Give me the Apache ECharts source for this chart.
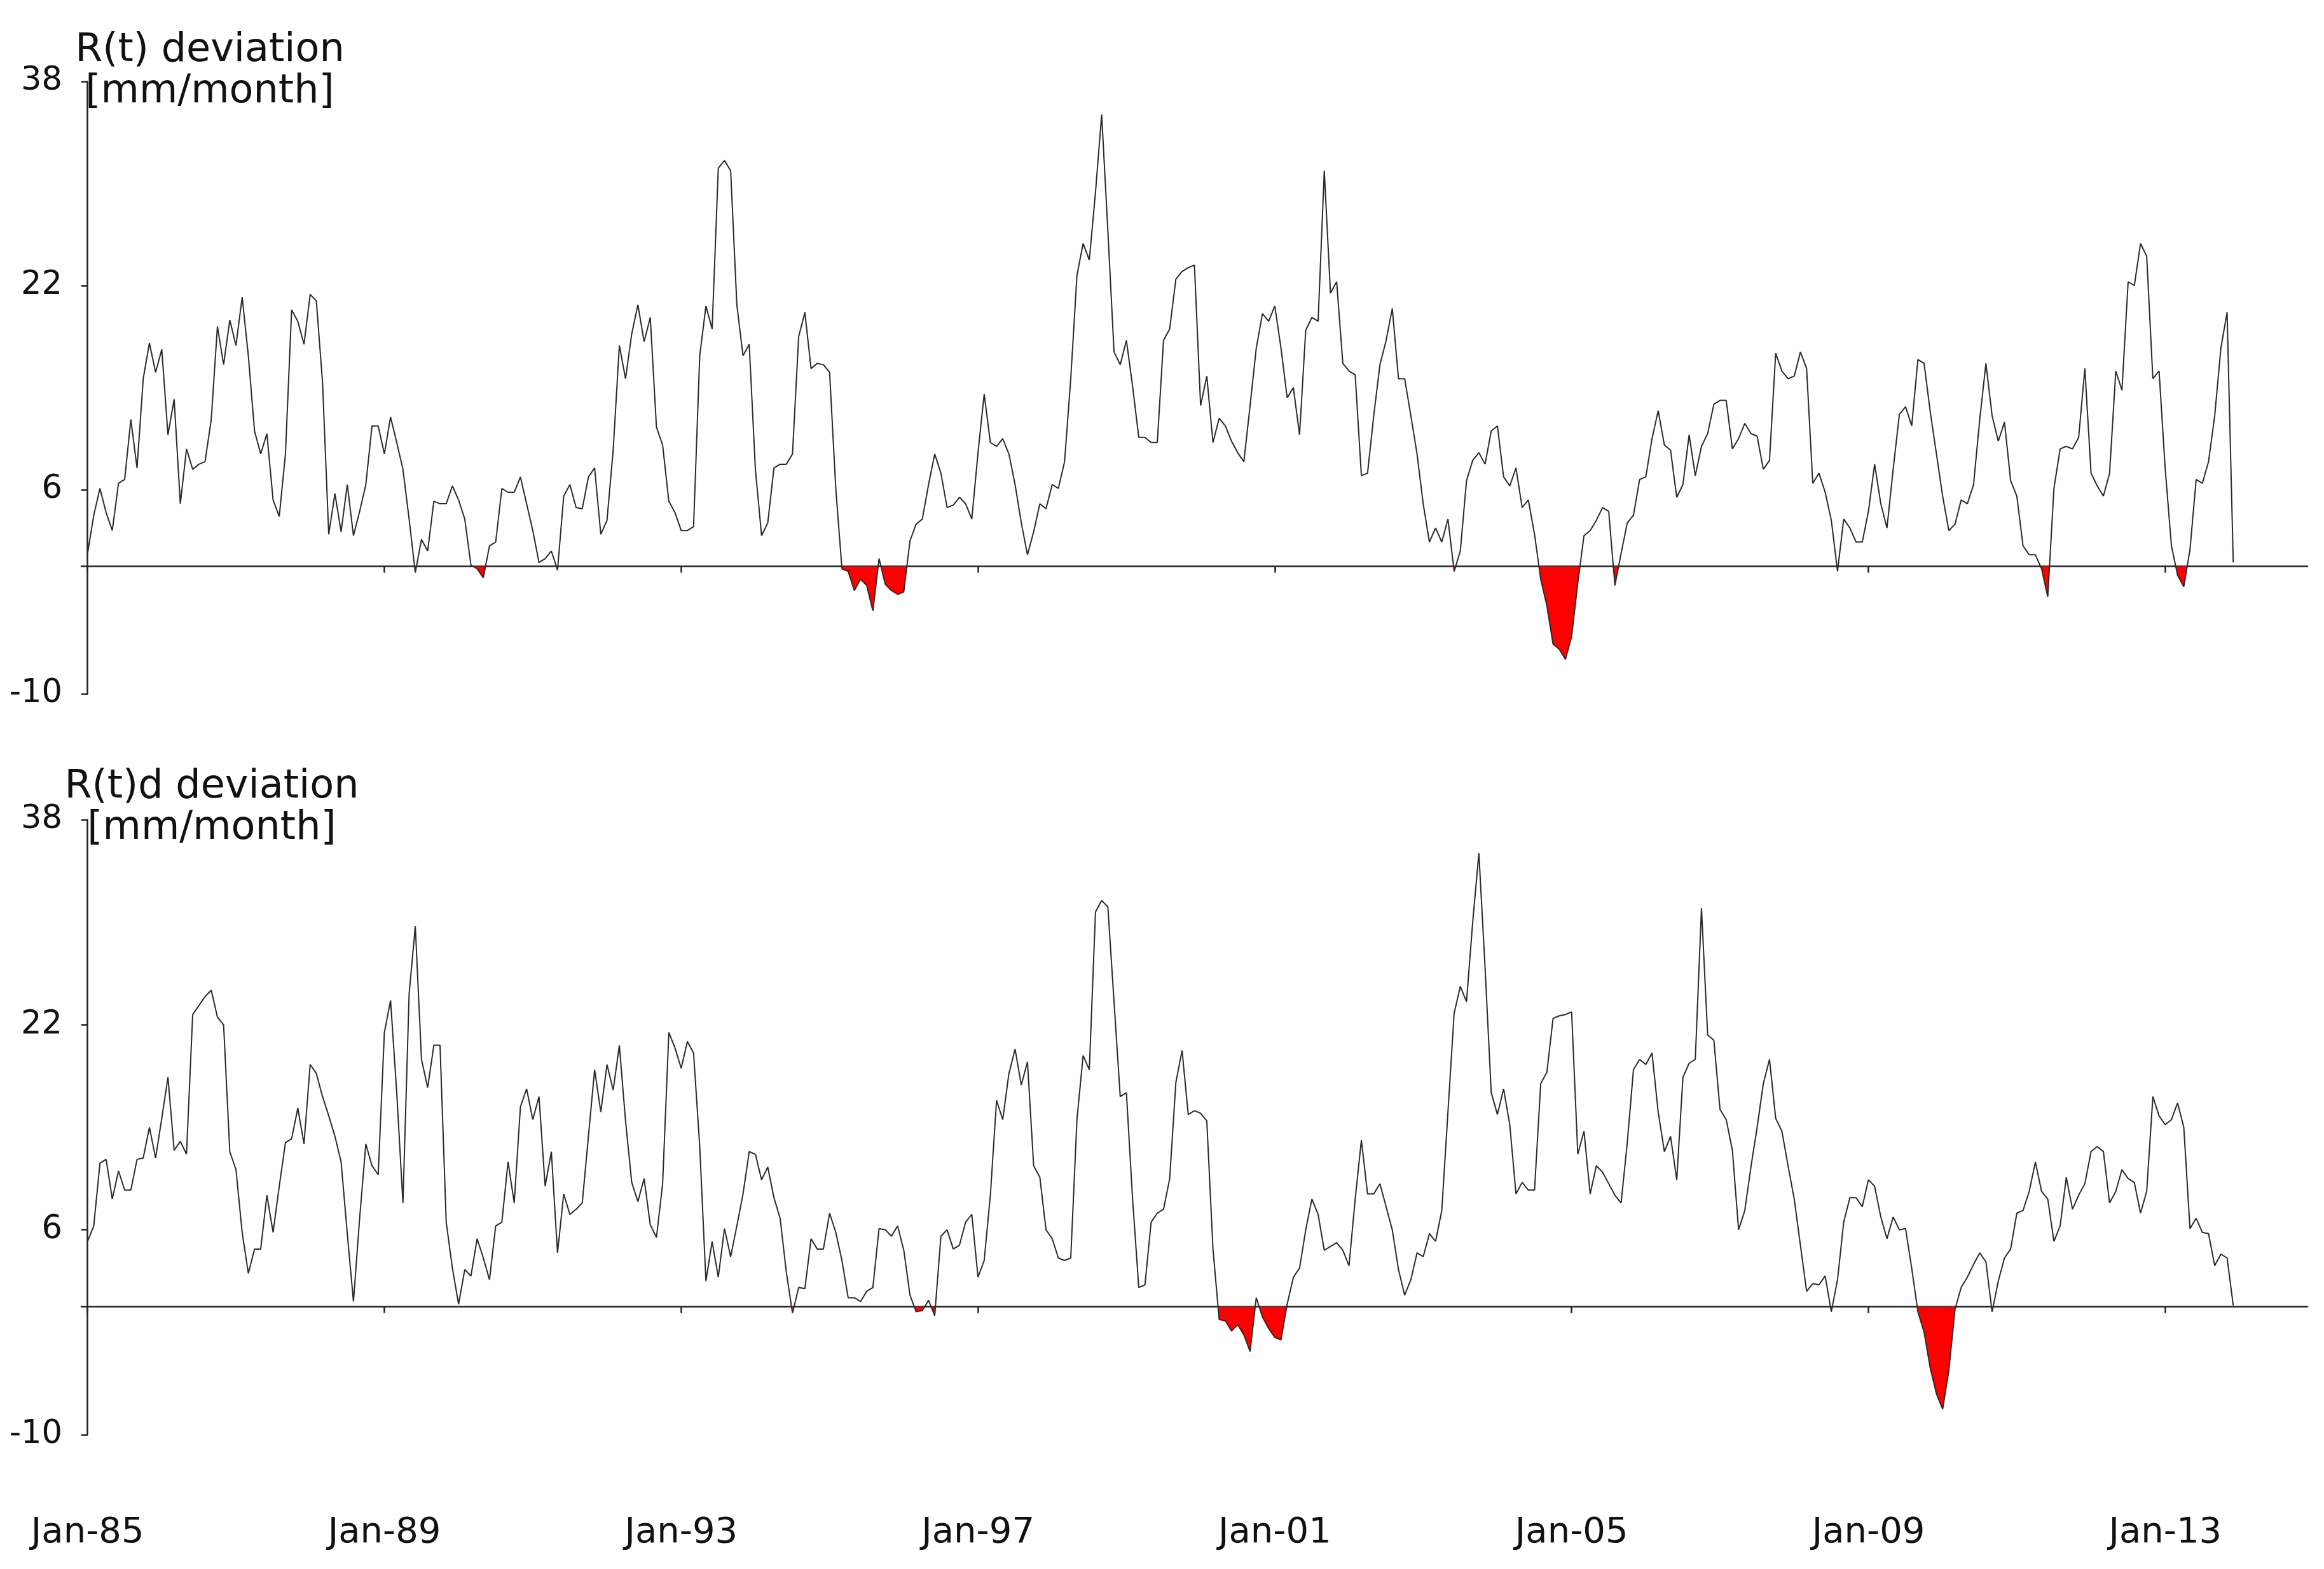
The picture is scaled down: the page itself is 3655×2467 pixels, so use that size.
<!DOCTYPE html>
<html>
<head>
<meta charset="utf-8">
<script src="https://cdn.jsdelivr.net/npm/echarts@6/dist/echarts.min.js"></script>
<style>
html,body{margin:0;padding:0;background:#ffffff;}
#chart{width:3655px;height:2467px;}
</style>
</head>
<body>
<div id="chart"></div>
<script>
// ---- data (monthly, Jan 1985 .. Dec 2013) ----
const tickLabels = ['Jan-85','Jan-89','Jan-93','Jan-97','Jan-01','Jan-05','Jan-09','Jan-13'];
const tickMonths = [0, 48, 96, 144, 192, 240, 288, 336];   // month index from Jan-85
const yTicks = [-10, 6, 22, 38];
const titleTop = 'R(t) deviation\n[mm/month]';
const titleBottom = 'R(t)d deviation\n[mm/month]';

// R(t) deviation [mm/month], one row per year
const rt = [
  1.0, 4.0, 6.1, 4.2, 2.8, 6.5, 6.8, 11.5, 7.7, 14.7, 17.5, 15.2,
  17.0, 10.3, 13.1, 4.9, 9.2, 7.6, 8.0, 8.2, 11.5, 18.8, 15.8, 19.3,
  17.3, 21.1, 16.5, 10.6, 8.8, 10.4, 5.2, 3.9, 8.8, 20.1, 19.2, 17.4,
  21.3, 20.8, 14.4, 2.5, 5.7, 2.7, 6.4, 2.4, 4.3, 6.4, 11.0, 11.0,
  8.8, 11.7, 9.7, 7.6, 3.7, -0.5, 2.1, 1.2, 5.1, 4.9, 4.9, 6.3,
  5.2, 3.7, 0.1, -0.2, -0.9, 1.6, 1.9, 6.1, 5.8, 5.8, 7.0, 4.9,
  2.8, 0.3, 0.6, 1.2, -0.3, 5.5, 6.4, 4.6, 4.5, 7.0, 7.7, 2.5,
  3.6, 9.1, 17.3, 14.7, 18.2, 20.5, 17.6, 19.5, 10.9, 9.5, 5.1, 4.2,
  2.8, 2.8, 3.1, 16.5, 20.4, 18.6, 31.2, 31.8, 31.0, 20.5, 16.5, 17.4,
  7.6, 2.4, 3.4, 7.7, 8.0, 8.0, 8.8, 18.0, 19.9, 15.5, 15.9, 15.8,
  15.2, 6.1, -0.2, -0.4, -1.9, -1.0, -1.5, -3.5, 0.6, -1.4, -1.9, -2.2,
  -2.0, 2.0, 3.3, 3.7, 6.4, 8.8, 7.3, 4.6, 4.8, 5.4, 4.9, 3.7,
  8.9, 13.5, 9.7, 9.4, 10.0, 8.8, 6.4, 3.4, 0.9, 2.7, 4.9, 4.5,
  6.4, 6.1, 8.2, 14.7, 22.8, 25.3, 24.0, 29.3, 35.4, 26.3, 16.8, 15.8,
  17.7, 14.1, 10.1, 10.1, 9.7, 9.7, 17.7, 18.6, 22.5, 23.1, 23.4, 23.6,
  12.6, 14.9, 9.7, 11.6, 11.0, 9.8, 8.9, 8.2, 12.6, 17.1, 19.8, 19.2,
  20.4, 17.1, 13.2, 14.0, 10.3, 18.5, 19.5, 19.2, 31.0, 21.4, 22.3, 15.9,
  15.3, 15.0, 7.1, 7.3, 11.8, 15.8, 17.7, 20.2, 14.7, 14.7, 11.8, 8.8,
  4.9, 1.9, 3.0, 1.9, 3.7, -0.4, 1.2, 6.7, 8.3, 8.9, 8.0, 10.6,
  11.0, 7.0, 6.3, 7.7, 4.6, 5.2, 2.5, -1.0, -3.1, -6.1, -6.5, -7.3,
  -5.5, -1.3, 2.4, 2.8, 3.6, 4.6, 4.3, -1.5, 1.0, 3.4, 4.0, 6.8,
  7.0, 10.0, 12.2, 9.5, 9.1, 5.4, 6.4, 10.3, 7.1, 9.4, 10.4, 12.7,
  13.0, 13.0, 9.2, 10.0, 11.2, 10.4, 10.2, 7.6, 8.3, 16.7, 15.3, 14.7,
  14.9, 16.8, 15.5, 6.5, 7.3, 5.8, 3.6, -0.4, 3.7, 3.0, 1.9, 1.9,
  4.3, 8.0, 4.9, 3.0, 7.6, 11.9, 12.5, 11.0, 16.2, 15.9, 12.1, 8.8,
  5.5, 2.8, 3.3, 5.2, 4.9, 6.4, 11.5, 15.9, 11.8, 9.8, 11.3, 6.7,
  5.5, 1.6, 0.9, 0.9, -0.2, -2.4, 6.1, 9.2, 9.4, 9.2, 10.1, 15.5,
  7.3, 6.3, 5.5, 7.3, 15.3, 13.8, 22.3, 22.0, 25.3, 24.3, 14.7, 15.3,
  7.6, 1.6, -0.7, -1.6, 1.3, 6.8, 6.5, 8.2, 11.8, 17.1, 19.9, 0.3
];

// R(t)d deviation [mm/month], one row per year
const rtd = [
  5.1, 6.3, 11.2, 11.5, 8.4, 10.6, 9.1, 9.1, 11.5, 11.6, 14.0, 11.6,
  14.7, 17.9, 12.2, 12.9, 11.9, 22.8, 23.5, 24.2, 24.7, 22.6, 22.0, 12.1,
  10.7, 5.8, 2.6, 4.5, 4.5, 8.7, 5.8, 9.4, 12.8, 13.1, 15.5, 12.7,
  18.9, 18.2, 16.4, 14.9, 13.3, 11.3, 5.7, 0.4, 6.9, 12.7, 11.0, 10.3,
  21.4, 23.9, 16.7, 8.1, 24.4, 29.7, 19.3, 17.1, 20.4, 20.4, 6.6, 3.0,
  0.2, 2.9, 2.4, 5.3, 3.8, 2.1, 6.3, 6.6, 11.3, 8.1, 15.6, 17.0,
  14.6, 16.4, 9.4, 12.1, 4.2, 8.8, 7.2, 7.6, 8.1, 13.3, 18.5, 15.2,
  18.9, 16.9, 20.4, 14.5, 9.7, 8.2, 10.0, 6.4, 5.4, 9.6, 21.4, 20.2,
  18.6, 20.7, 19.8, 12.5, 2.0, 5.1, 2.3, 6.1, 3.9, 6.3, 8.8, 12.1,
  11.9, 9.9, 10.9, 8.5, 6.9, 2.7, -0.5, 1.5, 1.4, 5.3, 4.5, 4.5,
  7.3, 5.8, 3.6, 0.7, 0.7, 0.4, 1.2, 1.5, 6.1, 6.0, 5.5, 6.3,
  4.4, 0.9, -0.4, -0.3, 0.5, -0.7, 5.5, 6.0, 4.5, 4.8, 6.6, 7.2,
  2.3, 3.6, 8.7, 16.1, 14.6, 18.2, 20.1, 17.3, 19.1, 11.0, 10.1, 6.0,
  5.3, 3.8, 3.6, 3.8, 14.6, 19.6, 18.5, 30.8, 31.7, 31.2, 23.8, 16.4,
  16.7, 8.4, 1.5, 1.7, 6.6, 7.3, 7.6, 10.0, 17.5, 20.0, 15.0, 15.3,
  15.1, 14.5, 4.5, -1.0, -1.1, -1.9, -1.4, -2.2, -3.5, 0.7, -0.8, -1.7,
  -2.4, -2.6, 0.2, 2.3, 3.0, 6.0, 8.4, 7.2, 4.4, 4.7, 5.0, 4.4,
  3.2, 8.4, 13.0, 8.8, 8.8, 9.6, 7.8, 6.0, 2.9, 0.9, 2.1, 4.2,
  3.9, 5.7, 5.1, 7.5, 15.2, 22.9, 25.0, 23.8, 30.0, 35.4, 26.5, 16.7,
  15.0, 17.0, 14.2, 8.8, 9.7, 9.1, 9.1, 17.4, 18.3, 22.5, 22.7, 22.8,
  23.0, 11.9, 13.7, 8.8, 11.0, 10.5, 9.6, 8.7, 8.1, 12.8, 18.5, 19.3,
  18.9, 19.8, 15.2, 12.1, 13.3, 9.9, 17.9, 19.0, 19.3, 31.1, 21.2, 20.8,
  15.4, 14.6, 12.2, 6.0, 7.5, 10.9, 14.0, 17.4, 19.3, 14.7, 13.7, 11.0,
  8.4, 4.8, 1.2, 1.8, 1.7, 2.4, -0.4, 2.1, 6.6, 8.5, 8.5, 7.8,
  9.9, 9.4, 7.0, 5.3, 7.0, 6.0, 6.1, 3.0, -0.4, -2.0, -4.8, -6.8,
  -8.0, -5.0, -0.2, 1.5, 2.3, 3.3, 4.2, 3.5, -0.4, 2.0, 3.8, 4.5,
  7.3, 7.5, 9.0, 11.3, 9.0, 8.4, 5.1, 6.3, 10.1, 7.6, 8.7, 9.6,
  12.1, 12.5, 12.1, 8.1, 9.0, 10.7, 10.0, 9.7, 7.3, 9.0, 16.4, 14.9,
  14.2, 14.6, 15.9, 14.0, 6.1, 6.9, 5.8, 5.7, 3.2, 4.1, 3.8, 0.1
];

// ---- helpers: build series data from the arrays ----
function linePoints(vals) {
  return vals.map((v, i) => [i, v]);
}
// values clipped at zero, with the zero crossings inserted so the red fill starts where the line crosses
function negArea(vals) {
  const out = [];
  for (let i = 0; i < vals.length; i++) {
    const v = vals[i];
    if (i > 0) {
      const p = vals[i - 1];
      if ((p < 0 && v > 0) || (p > 0 && v < 0)) {
        out.push([i - 1 + p / (p - v), 0]);
      }
    }
    out.push([i, Math.min(v, 0)]);
  }
  return out;
}
function tickLabel(v) {
  const k = tickMonths.indexOf(Math.round(v));
  return k >= 0 ? tickLabels[k] : '';
}

const FONT = 'DejaVu Sans';
const AXIS_COLOR = '#222222';

function makeYAxis(gridIndex) {
  return {
    type: 'value', gridIndex: gridIndex, min: -10, max: 38,
    axisLine: { show: true, lineStyle: { color: AXIS_COLOR, width: 2.5 } },
    axisTick: { show: true, length: 10, customValues: yTicks, lineStyle: { color: AXIS_COLOR, width: 2.5 } },
    axisLabel: { show: true, customValues: yTicks, margin: 30, fontSize: 51, fontFamily: FONT, color: '#111111' },
    splitLine: { show: false }
  };
}
function makeZeroXAxis(gridIndex) {
  return {
    type: 'value', gridIndex: gridIndex, min: -1, max: 359, position: 'bottom',
    axisLine: { show: true, onZero: true, lineStyle: { color: AXIS_COLOR, width: 2.5 } },
    axisTick: { show: true, length: 10, inside: false, customValues: tickMonths, lineStyle: { color: AXIS_COLOR, width: 2.5 } },
    axisLabel: { show: false },
    splitLine: { show: false }
  };
}

const option = {
  animation: false,
  backgroundColor: '#ffffff',
  title: [
    { text: titleTop, left: 330, top: 47, padding: 0, textAlign: 'center',
      textStyle: { fontFamily: FONT, fontSize: 62, fontWeight: 'normal', color: '#111111', lineHeight: 65 } },
    { text: titleBottom, left: 333, top: 1205, padding: 0, textAlign: 'center',
      textStyle: { fontFamily: FONT, fontSize: 62, fontWeight: 'normal', color: '#111111', lineHeight: 65 } }
  ],
  grid: [
    { left: 128, top: 128, width: 3501, height: 963, containLabel: false },
    { left: 128, top: 1289, width: 3501, height: 967, containLabel: false }
  ],
  xAxis: [
    makeZeroXAxis(0),
    makeZeroXAxis(1),
    {
      type: 'value', gridIndex: 1, min: -1, max: 359, position: 'bottom',
      axisLine: { show: false, onZero: false },
      axisTick: { show: false },
      axisLabel: { show: true, customValues: tickMonths, formatter: tickLabel, margin: 126,
        fontSize: 56, lineHeight: 56, fontFamily: FONT, color: '#111111' },
      splitLine: { show: false }
    }
  ],
  yAxis: [ makeYAxis(0), makeYAxis(1) ],
  series: [
    { type: 'line', xAxisIndex: 0, yAxisIndex: 0, data: negArea(rt), showSymbol: false, silent: true,
      lineStyle: { width: 0, opacity: 0 }, areaStyle: { color: '#ff0000', opacity: 1, origin: 0 }, z: 2 },
    { type: 'line', xAxisIndex: 0, yAxisIndex: 0, data: linePoints(rt), showSymbol: false, silent: true,
      lineStyle: { color: '#2a2a2a', width: 2 }, z: 3 },
    { type: 'line', xAxisIndex: 1, yAxisIndex: 1, data: negArea(rtd), showSymbol: false, silent: true,
      lineStyle: { width: 0, opacity: 0 }, areaStyle: { color: '#ff0000', opacity: 1, origin: 0 }, z: 2 },
    { type: 'line', xAxisIndex: 1, yAxisIndex: 1, data: linePoints(rtd), showSymbol: false, silent: true,
      lineStyle: { color: '#2a2a2a', width: 2 }, z: 3 }
  ]
};

const chart = echarts.init(document.getElementById('chart'), null, { renderer: 'canvas' });
chart.setOption(option);
</script>
</body>
</html>
